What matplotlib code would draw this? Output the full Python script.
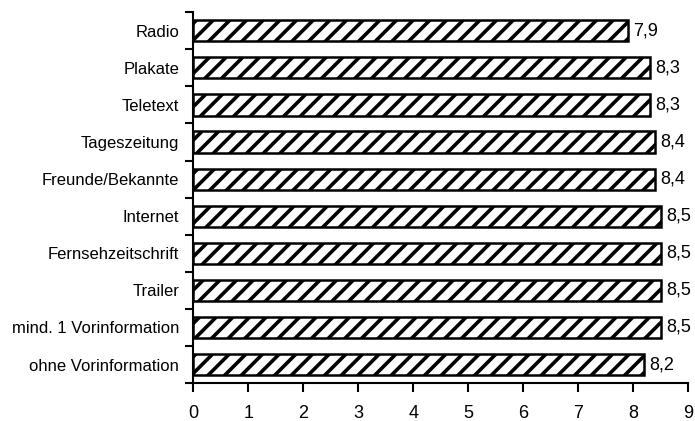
import numpy as np
import matplotlib
matplotlib.use('Agg')
import matplotlib.pyplot as plt

# data, top to bottom as in the chart
categories = ['Radio', 'Plakate', 'Teletext', 'Tageszeitung', 'Freunde/Bekannte',
              'Internet', 'Fernsehzeitschrift', 'Trailer', 'mind. 1 Vorinformation',
              'ohne Vorinformation']
values = [7.9, 8.3, 8.3, 8.4, 8.4, 8.5, 8.5, 8.5, 8.5, 8.2]
x_ticks = [0, 1, 2, 3, 4, 5, 6, 7, 8, 9]

plt.rcParams['font.family'] = ['Liberation Sans Narrow', 'Liberation Sans', 'DejaVu Sans']
plt.rcParams['hatch.linewidth'] = 2.6

fig = plt.figure(figsize=(6.95, 4.21), dpi=100)
ax = fig.add_axes([0.278, 0.09, 0.712, 0.881])

y = np.arange(len(categories))
ax.barh(y, values, height=0.57, color='white', edgecolor='black',
        linewidth=1.8, hatch='//')

for yi, v in zip(y, values):
    ax.text(v + 0.1, yi, f'{v:.1f}'.replace('.', ','), va='center', ha='left',
            fontsize=13)

ax.set_xlim(0, 9)
ax.set_ylim(len(categories) - 0.5, -0.5)
ax.set_xticks(x_ticks)
ax.set_xticklabels([str(t) for t in x_ticks], fontsize=13)
ax.tick_params(axis='x', length=6.5, width=1.5, pad=9)

ax.set_yticks(y)
ax.set_yticklabels(categories, fontsize=12)
ax.tick_params(axis='y', which='major', length=0, pad=10)
ax.set_yticks(np.arange(-0.5, len(categories) + 0.5, 1), minor=True)
ax.tick_params(axis='y', which='minor', length=6, width=1.5)

for s in ['top', 'right']:
    ax.spines[s].set_visible(False)
for s in ['left', 'bottom']:
    ax.spines[s].set_linewidth(1.5)

fig.savefig('out.png', dpi=100)
